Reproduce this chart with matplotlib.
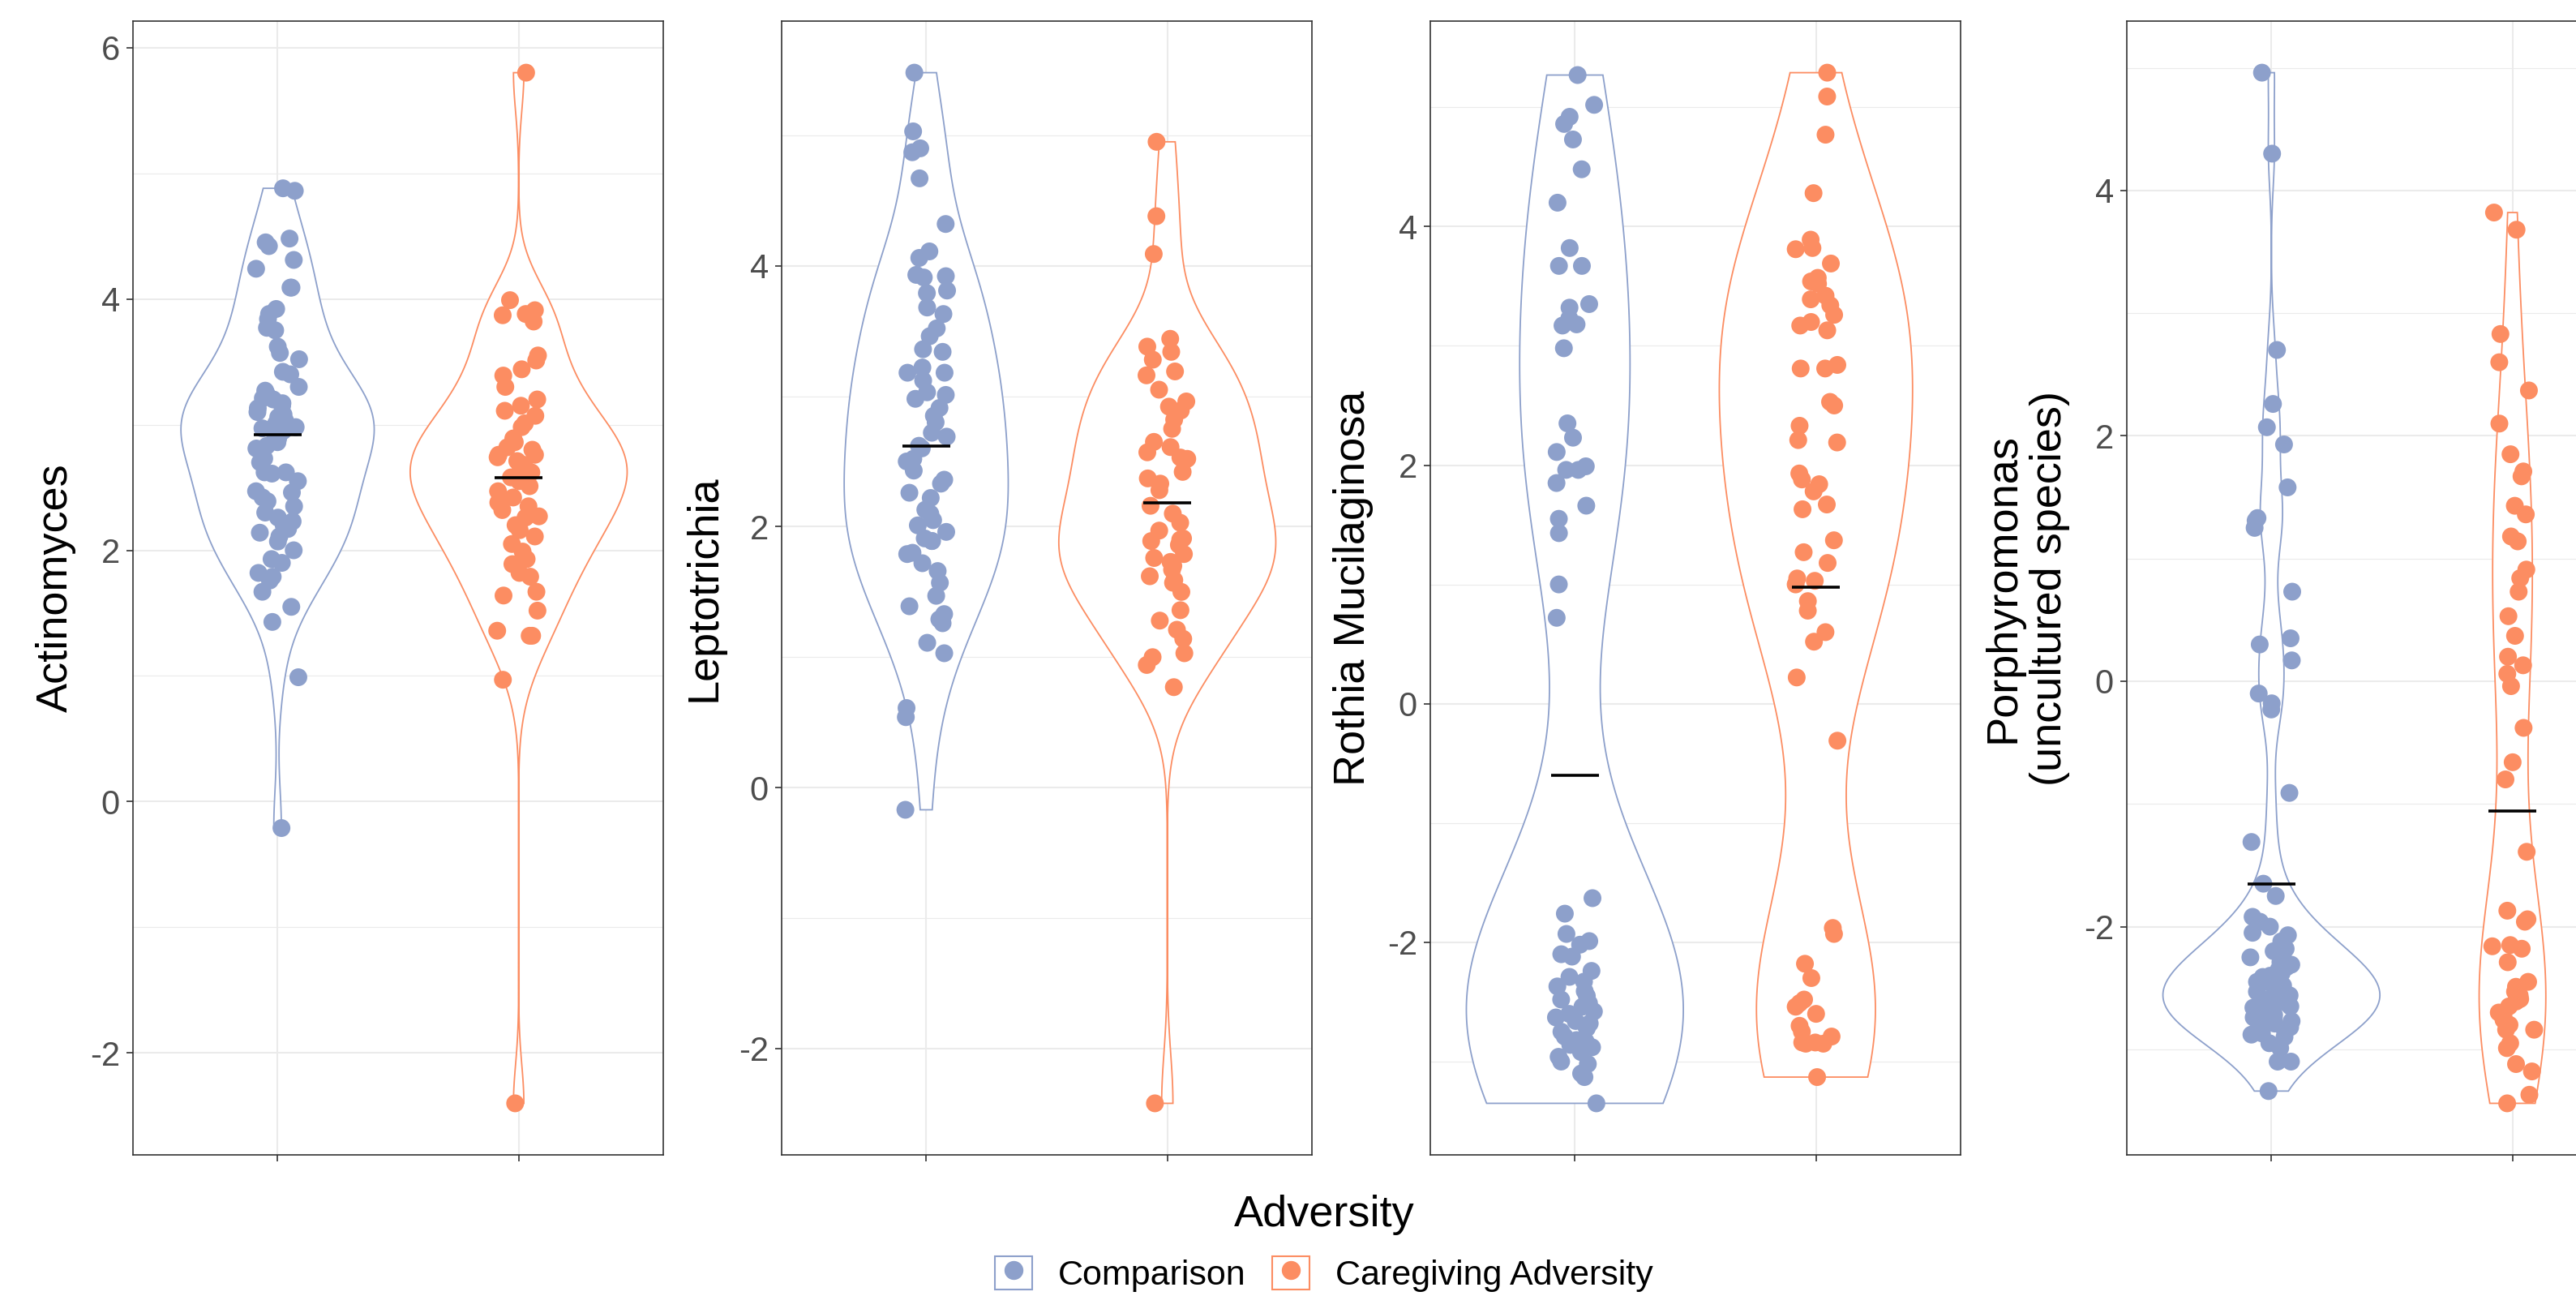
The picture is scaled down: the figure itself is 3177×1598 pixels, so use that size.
import numpy as np
import matplotlib
matplotlib.use("Agg")
import matplotlib.pyplot as plt
import matplotlib.patches as mpatches
from matplotlib.lines import Line2D
from matplotlib.legend_handler import HandlerTuple
from matplotlib.ticker import MultipleLocator

plt.rcParams['font.family'] = ['Liberation Sans', 'DejaVu Sans']
plt.rcParams['axes.unicode_minus'] = False

groups = ['Comparison', 'Caregiving Adversity']
colors = ['#8DA0CB', '#FC8D62']
titles = ['Actinomyces', 'Leptotrichia', 'Rothia Mucilaginosa',
          'Porphyromonas\n(uncultured species)']

# values (one list per taxon and group)
act_comp = [4.88, 4.86, 4.48, 4.45, 4.42, 4.31, 4.24, 4.09, 4.09, 3.92, 3.88, 3.84,
            3.77, 3.75, 3.62, 3.57, 3.52, 3.40, 3.42, 3.30, 3.27, 3.21, 3.17, 3.13,
            3.10, 3.06, 3.01, 2.98, 2.95, 2.89, 2.86, 2.83, 2.81, 2.73, 2.62, 2.62,
            2.61, 2.47, 2.46, 2.42, 2.39, 2.35, 2.26, 2.23, 2.20, 2.17, 2.14, 2.11,
            2.07, 2.00, 1.93, 1.90, 1.82, 1.79, 1.76, 1.67, 1.55, 1.43, 0.99, -0.21,
            3.15, 3.08, 3.03, 2.97, 2.92, 3.25, 3.20, 2.70, 2.55, 2.30]
act_care = [5.80, 3.99, 3.91, 3.88, 3.87, 3.82, 3.55, 3.51, 3.44, 3.39, 3.30, 3.20,
            3.15, 3.11, 3.07, 3.01, 2.98, 2.89, 2.86, 2.82, 2.76, 2.76, 2.71, 2.65,
            2.58, 2.51, 2.47, 2.42, 2.38, 2.32, 2.27, 2.26, 2.20, 2.16, 2.11, 2.05,
            1.99, 1.93, 1.89, 1.82, 1.79, 1.67, 1.64, 1.52, 1.36, 1.32, 1.32, 0.97,
            -2.40, 2.80, 2.74, 2.68, 2.62, 2.55, 2.35]

lep_comp = [5.48, 5.03, 4.90, 4.87, 4.67, 4.32, 4.11, 4.06, 3.93, 3.92, 3.91, 3.81,
            3.79, 3.68, 3.63, 3.52, 3.46, 3.36, 3.34, 3.22, 3.18, 3.18, 3.12, 3.03,
            3.01, 2.98, 2.91, 2.85, 2.80, 2.72, 2.69, 2.62, 2.60, 2.52, 2.50, 2.43,
            2.36, 2.33, 2.26, 2.22, 2.13, 2.10, 2.05, 2.01, 1.96, 1.91, 1.89, 1.89,
            1.80, 1.79, 1.72, 1.66, 1.57, 1.47, 1.39, 1.33, 1.29, 1.26, 1.11, 1.03,
            0.61, 0.54, -0.17]
lep_care = [4.95, 4.38, 4.09, 3.44, 3.38, 3.34, 3.28, 3.19, 3.16, 3.05, 2.96, 2.92,
            2.89, 2.82, 2.75, 2.65, 2.61, 2.57, 2.53, 2.52, 2.42, 2.37, 2.33, 2.28,
            2.16, 2.10, 2.03, 1.97, 1.91, 1.90, 1.89, 1.86, 1.79, 1.76, 1.73, 1.70,
            1.67, 1.62, 1.59, 1.57, 1.50, 1.36, 1.28, 1.21, 1.14, 1.03, 1.00, 0.94,
            0.77, -2.42]

rot_comp = [5.27, 5.02, 4.92, 4.86, 4.73, 4.48, 4.20, 3.82, 3.67, 3.67, 3.35, 3.32,
            3.23, 3.18, 3.17, 2.98, 2.35, 2.23, 2.11, 1.99, 1.96, 1.96, 1.85, 1.66,
            1.55, 1.43, 1.00, 0.72, -1.63, -1.76, -1.93, -1.99, -2.02, -2.10, -2.12,
            -2.24, -2.29, -2.33, -2.37, -2.41, -2.45, -2.51, -2.54, -2.60, -2.63,
            -2.66, -2.70, -2.75, -2.79, -2.82, -2.83, -2.88, -2.96, -3.00, -3.02,
            -3.10, -3.13, -3.35, -2.58, -2.68, -2.72, -2.86, -2.92, -2.48]
rot_care = [5.29, 5.09, 4.77, 4.28, 3.89, 3.82, 3.81, 3.69, 3.57, 3.54, 3.52, 3.42,
            3.39, 3.34, 3.26, 3.20, 3.17, 3.13, 2.84, 2.81, 2.81, 2.53, 2.50, 2.33,
            2.21, 2.19, 1.93, 1.88, 1.84, 1.78, 1.67, 1.63, 1.37, 1.27, 1.18, 1.05,
            1.03, 1.00, 0.86, 0.78, 0.60, 0.52, 0.22, -0.31, -1.88, -1.93, -2.18,
            -2.30, -2.48, -2.51, -2.54, -2.60, -2.70, -2.75, -2.79, -2.84, -2.84,
            -2.85, -2.85, -3.13]

por_comp = [4.96, 4.30, 2.70, 2.26, 2.07, 1.93, 1.58, 1.33, 1.31, 1.25, 0.73, 0.35,
            0.30, 0.17, -0.10, -0.18, -0.23, -0.91, -1.31, -1.65, -1.75, -1.92,
            -1.96, -2.00, -2.07, -2.15, -2.18, -2.23, -2.29, -2.33, -2.37, -2.38,
            -2.41, -2.45, -2.50, -2.53, -2.56, -2.59, -2.61, -2.65, -2.68, -2.71,
            -2.74, -2.77, -2.79, -2.84, -2.87, -2.90, -2.99, -3.10, -3.10, -3.34,
            -2.45, -2.55, -2.62, -2.70, -2.35, -2.80, -2.20, -2.48,
            -2.05, -2.12, -2.25, -2.31, -2.40, -2.43, -2.52, -2.57, -2.60, -2.66,
            -2.72, -2.75, -2.82, -2.88, -2.95, -2.58, -2.64]
por_care = [3.82, 3.68, 2.83, 2.60, 2.37, 2.10, 1.85, 1.71, 1.67, 1.43, 1.36, 1.18,
            1.14, 0.91, 0.84, 0.73, 0.53, 0.37, 0.20, 0.13, 0.06, -0.04, -0.38,
            -0.66, -0.80, -1.39, -1.87, -1.94, -1.96, -2.15, -2.18, -2.16, -2.29,
            -2.45, -2.49, -2.53, -2.56, -2.59, -2.61, -2.65, -2.70, -2.73, -2.76,
            -2.80, -2.84, -2.84, -2.95, -2.99, -3.12, -3.18, -3.37, -3.44]

# median bars
med_act = [2.92, 2.58]
med_lep = [2.62, 2.18]
med_rot = [-0.60, 0.98]
med_por = [-1.65, -1.06]

panels = [(act_comp, act_care), (lep_comp, lep_care),
          (rot_comp, rot_care), (por_comp, por_care)]
medians = [med_act, med_lep, med_rot, med_por]


def kde_nrd0(vals, grid):
    # gaussian kde with R's default bandwidth (bw.nrd0)
    n = len(vals)
    sd = np.std(vals, ddof=1)
    q75, q25 = np.percentile(vals, [75, 25])
    bw = 0.9 * min(sd, (q75 - q25) / 1.34) * n ** -0.2
    z = (grid[:, None] - vals[None, :]) / bw
    return np.exp(-0.5 * z ** 2).sum(axis=1) / (n * bw * np.sqrt(2 * np.pi))


rng = np.random.default_rng(7)  # horizontal jitter only, like geom_jitter

fig = plt.figure(figsize=(31.77, 15.98), dpi=100)
lefts = [0.0516, 0.3034, 0.5552, 0.8256]

for k in range(4):
    ax = fig.add_axes([lefts[k], 0.1089, 0.2059, 0.8748])
    data = panels[k]
    curves = []
    for vals in data:
        v = np.asarray(vals)
        grid = np.linspace(v.min(), v.max(), 512)
        curves.append((grid, kde_nrd0(v, grid)))
    dmax = max(d.max() for _, d in curves)
    for i, vals in enumerate(data):
        grid, dens = curves[i]
        pos = i + 1
        hw = 0.45 * dens / dmax
        xs = np.concatenate([pos + hw, (pos - hw)[::-1]])
        ys = np.concatenate([grid, grid[::-1]])
        ax.fill(xs, ys, facecolor='white', edgecolor=colors[i], lw=1.3, zorder=2)
        jit = rng.uniform(-0.09, 0.09, len(vals))
        ax.scatter(pos + jit, vals, s=250, color=colors[i], edgecolors='none', zorder=3)
        ax.plot([pos - 0.1, pos + 0.1], [medians[k][i]] * 2, color='black',
                lw=2.6, zorder=4, solid_capstyle='butt')

    ax.set_xlim(0.4, 2.6)
    ax.margins(y=0.05)
    ax.set_xticks([1, 2])
    ax.set_xticklabels(['', ''])
    ax.yaxis.set_major_locator(MultipleLocator(2))
    ax.yaxis.set_minor_locator(MultipleLocator(1))
    ax.set_axisbelow(True)
    ax.grid(which='major', color='#EBEBEB', lw=1.5)
    ax.grid(which='minor', axis='y', color='#EBEBEB', lw=0.8)
    for s in ax.spines.values():
        s.set_color('#333333')
        s.set_linewidth(1.2)
    ax.tick_params(which='major', length=5.8, width=1.2, color='#333333',
                   labelsize=30, labelcolor='#4D4D4D', pad=5.8)
    ax.tick_params(which='minor', length=0)
    ax.set_ylabel(titles[k], fontsize=39, labelpad=12)

handles = [(mpatches.Patch(facecolor='white', edgecolor=c, lw=1.5),
            Line2D([], [], marker='o', ls='none', color=c, markersize=15.8))
           for c in colors]
fig.legend(handles, groups, handler_map={tuple: HandlerTuple(ndivide=1)},
           loc='lower center', bbox_to_anchor=(0.514, -0.013), ncol=2, frameon=False,
           fontsize=31, title='Adversity', title_fontsize=39,
           handlelength=1.07, handleheight=1.07, handletextpad=0.75,
           columnspacing=0.75, borderpad=0.1, labelspacing=0.6)

fig.savefig('out.png', dpi=100)
